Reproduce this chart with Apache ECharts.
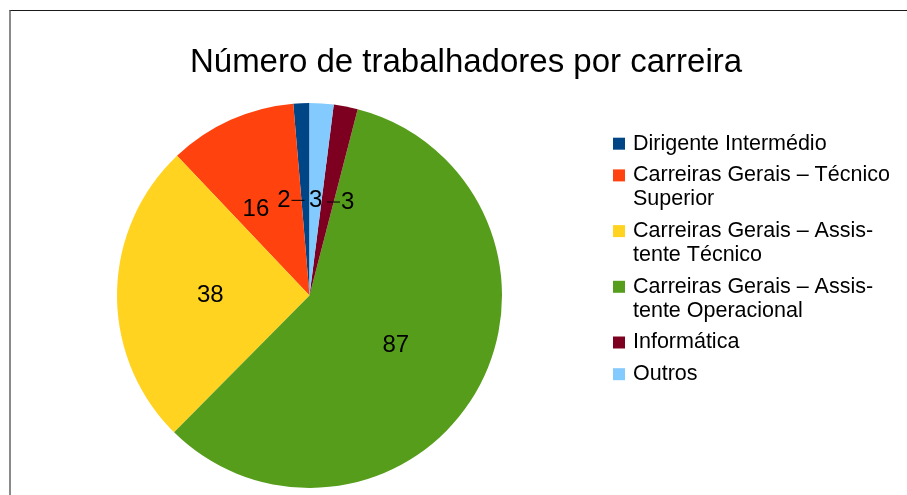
<!DOCTYPE html>
<html>
<head>
<meta charset="utf-8">
<title>Número de trabalhadores por carreira</title>
<script src="https://cdn.jsdelivr.net/npm/echarts@6/dist/echarts.min.js"></script>
<style>
  * { margin: 0; padding: 0; }
  html, body { width: 100%; height: 100%; background: #fff; overflow: hidden; }
  #frame {
    position: absolute; left: 9px; top: 10px; width: 920px; height: 600px;
    border-top: 1px solid #1a1a1a; border-left: 2px solid #8a8a8a;
  }
  #main { position: absolute; left: 0; top: 0; width: 907px; height: 495px; }
</style>
</head>
<body>
<div id="frame"></div>
<div id="main"></div>
<script>
  // dados
  var categories = ['Dirigente Intermédio', 'Carreiras Gerais – Técnico Superior',
    'Carreiras Gerais – Assistente Técnico', 'Carreiras Gerais – Assistente Operacional',
    'Informática', 'Outros'];
  var values = [2, 16, 38, 87, 3, 3];
  // texto da legenda, já partido em linhas
  var legendLines = [
    ['Dirigente Intermédio'],
    ['Carreiras Gerais – Técnico', 'Superior'],
    ['Carreiras Gerais – Assis-', 'tente Técnico'],
    ['Carreiras Gerais – Assis-', 'tente Operacional'],
    ['Informática'],
    ['Outros']
  ];
  var colors = ['#004586', '#ff420e', '#ffd320', '#579d1c', '#7e0021', '#83caff'];

  // rótulos pequenos afastados para não se sobreporem (deslocamento + traço de ligação)
  var labelShift = [[-15, 4], [-13, 4], [0, 1], [0, 1], [13, 4], [0, 4]];
  var labelDash = ['after', null, null, null, 'before', null];

  var font = '"Liberation Sans", Arial, sans-serif';

  var rich = {
    t: { fontFamily: font, fontSize: 21.5, color: '#000', lineHeight: 24, padding: [0, 0, 0, 8] },
    sp: { width: 12, height: 12 }
  };
  colors.forEach(function (c, i) {
    rich['s' + i] = { width: 12, height: 12, backgroundColor: c };
  });

  var chart = echarts.init(document.getElementById('main'));
  chart.setOption({
    color: colors,
    animation: false,
    title: {
      text: 'Número de trabalhadores por carreira',
      left: 466,
      top: 46,
      padding: 0,
      textAlign: 'center',
      textStyle: { fontFamily: font, fontSize: 33, fontWeight: 'normal', color: '#000' }
    },
    legend: {
      orient: 'vertical',
      left: 608,
      top: 131.7,
      padding: 0,
      itemGap: 7.7,
      itemWidth: 0,
      itemHeight: 12,
      icon: 'rect',
      itemStyle: { opacity: 0 },
      selectedMode: false,
      data: categories,
      formatter: function (name) {
        var i = categories.indexOf(name);
        return legendLines[i].map(function (line, k) {
          return (k === 0 ? '{s' + i + '|}' : '{sp|}') + '{t|' + line + '}';
        }).join('\n');
      },
      textStyle: { fontFamily: font, fontSize: 21.5, color: '#000', lineHeight: 24, rich: rich }
    },
    series: [{
      type: 'pie',
      center: [309.5, 295.5],
      radius: 192.5,
      startAngle: 90,
      clockwise: false,
      itemStyle: { borderWidth: 0 },
      label: {
        show: true,
        position: 'inside',
        color: '#000',
        fontFamily: font,
        fontSize: 24,
        formatter: function (p) {
          var d = labelDash[p.dataIndex];
          if (d === 'after') return '{v|' + p.value + '}{d|}';
          if (d === 'before') return '{d|}{v|' + p.value + '}';
          return '{v|' + p.value + '}';
        },
        rich: {
          v: { fontFamily: font, fontSize: 24, color: '#000', padding: [0, 1, 0, 1] },
          d: { width: 13, height: 1, backgroundColor: '#000' }
        }
      },
      labelLine: { show: false },
      emphasis: { disabled: true },
      data: categories.map(function (n, i) {
        return { name: n, value: values[i], label: { offset: labelShift[i] } };
      })
    }]
  });
</script>
</body>
</html>
